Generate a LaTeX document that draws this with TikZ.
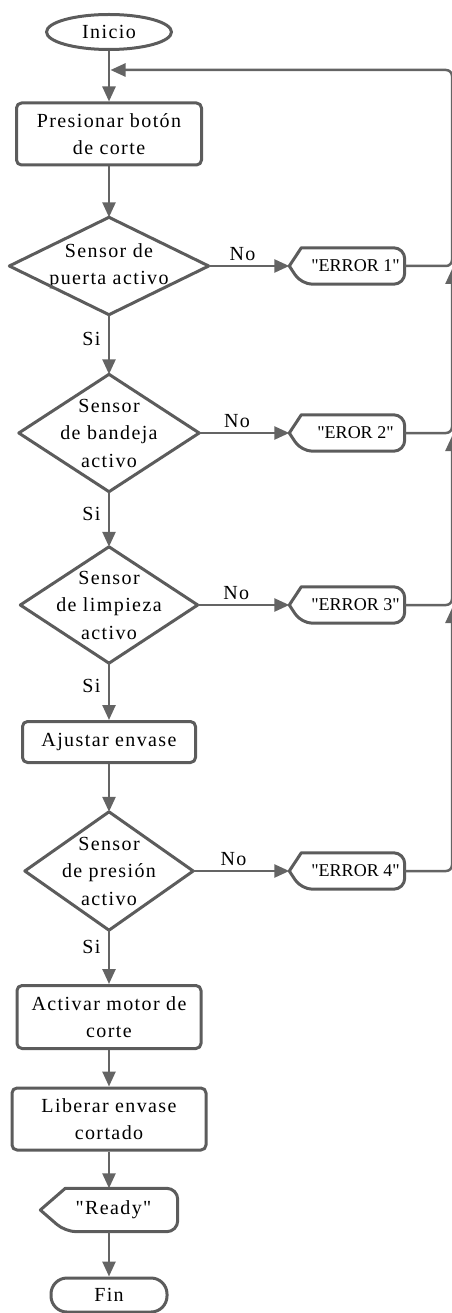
\documentclass[tikz,border=0pt]{standalone}
\usepackage{fontspec}
\setmainfont{Liberation Serif}[LetterSpace=7]
\newfontfamily\errfont{Liberation Serif}
\newfontfamily\quotefont{Liberation Serif}[LetterSpace=7]
\usetikzlibrary{shapes.geometric,arrows.meta}
\definecolor{boxgray}{RGB}{92,92,92}
\definecolor{linegray}{RGB}{100,100,100}

\begin{document}
\begin{tikzpicture}[x=1pt, y=-1pt,
  font=\fontsize{20}{27.5}\selectfont,
  outline/.style={draw=boxgray, line width=3pt, line join=round},
  terminal/.style={outline, inner sep=0pt},
  process/.style={rectangle, outline, rounded corners=5pt, inner sep=0pt, align=center},
  decision/.style={rectangle, inner sep=0pt, align=center},
  output/.style={rectangle, inner sep=0pt, align=center, minimum width=115pt, minimum height=36pt, font=\errfont\fontsize{18}{22}\selectfont},
  flow/.style={draw=linegray, line width=2.5pt, -{Triangle[length=15pt,width=13pt]}},
  no/.style={above=1pt, pos=0.42},
  yes/.style={left=4pt, pos=0.4}]
  \useasboundingbox (0,0) rectangle (451,1313);

  % Define nodes
  \node[terminal, ellipse, minimum width=125pt, minimum height=35pt] (inicio) at (109,32) {Inicio};
  \node[process, minimum width=185pt, minimum height=62pt] (presionar) at (109,134) {Presionar botón\\de corte};
  \node[decision, minimum width=199pt, minimum height=97pt] (puerta) at (109,266) {Sensor de\\puerta activo};
  \node[output] (e1) at (347,266) {\hspace*{17pt}"ERROR 1"};
  \node[decision, minimum width=180pt, minimum height=117pt] (bandeja) at (109,433) {Sensor\\de bandeja\\activo};
  \node[output] (e2) at (347,433) {\hspace*{17pt}"EROR 2"};
  \node[decision, minimum width=177pt, minimum height=116pt] (limpieza) at (109,605) {Sensor\\de limpieza\\activo};
  \node[output] (e3) at (347,605) {\hspace*{17pt}"ERROR 3"};
  \node[process, minimum width=173pt, minimum height=41pt] (ajustar) at (109,742) {Ajustar envase};
  \node[decision, minimum width=168pt, minimum height=118pt] (presion) at (109,871) {Sensor\\de presión\\activo};
  \node[output] (e4) at (347,871) {\hspace*{17pt}"ERROR 4"};
  \node[process, minimum width=184pt, minimum height=63pt] (motor) at (109,1017) {Activar motor de\\corte};
  \node[process, minimum width=194pt, minimum height=62pt] (liberar) at (109,1119) {Liberar envase\\cortado};
  \node[output, minimum width=137pt, minimum height=43pt, font=\quotefont\fontsize{20}{22}\selectfont] (ready) at (109,1210) {\hspace*{9pt}"Ready"};
  \node[terminal, rounded corners=16pt, minimum width=116pt, minimum height=34pt] (fin) at (109,1295) {Fin};

  % Shape outlines
  \foreach \n in {puerta,bandeja,limpieza,presion}
    \draw[outline] (\n.north) -- (\n.east) -- (\n.south) -- (\n.west) -- cycle;
  \foreach \n/\p in {e1/12pt,e2/12pt,e3/12pt,e4/12pt,ready/25pt}
    \draw[outline] (\n.west) -- ([xshift=\p]\n.north west) [rounded corners=11pt]
      -- (\n.north east) -- (\n.south east) -- ([xshift=\p]\n.south west) [sharp corners] -- cycle;

  % Feedback points
  \coordinate (top) at (452,70);
  \coordinate (merge) at (110.5,70);
  \coordinate (j1) at (452,269);
  \coordinate (j2) at (452,436);
  \coordinate (j3) at (452,608);

  % Draw edges
  \draw[flow] (inicio) -- (presionar);
  \draw[flow] (presionar) -- (puerta);
  \draw[flow] (puerta) -- node[yes] {Si} (bandeja);
  \draw[flow] (bandeja) -- node[yes] {Si} (limpieza);
  \draw[flow] (limpieza) -- node[yes] {Si} (ajustar);
  \draw[flow] (ajustar) -- (presion);
  \draw[flow] (presion) -- node[yes, pos=0.32] {Si} (motor);
  \draw[flow] (motor) -- (liberar);
  \draw[flow] (liberar) -- (ready);
  \draw[flow] (ready) -- (fin);
  \draw[flow] (puerta) -- node[no] {No} (e1);
  \draw[flow] (bandeja) -- node[no] {No} (e2);
  \draw[flow] (limpieza) -- node[no] {No} (e3);
  \draw[flow] (presion) -- node[no] {No} (e4);
  \draw[flow, rounded corners=6pt] (e1.east) -| (top) -- (merge);
  \draw[flow, rounded corners=6pt] (e2.east) -| (j1);
  \draw[flow, rounded corners=6pt] (e3.east) -| (j2);
  \draw[flow, rounded corners=6pt] (e4.east) -| (j3);
\end{tikzpicture}
\end{document}
